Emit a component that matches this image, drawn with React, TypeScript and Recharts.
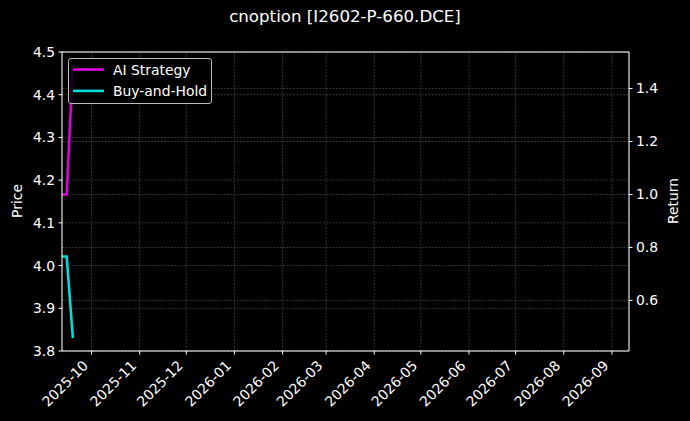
import { LineChart, Line, XAxis, YAxis, CartesianGrid, ReferenceLine } from "recharts";

// values
const dates = ["2025-09-12", "2025-09-15", "2025-09-19"];
const aiStrategy = [1.0, 1.0, 1.487];
const buyAndHold = [0.766, 0.766, 0.458];

const monthTicks = [
  "2025-10", "2025-11", "2025-12", "2026-01", "2026-02", "2026-03",
  "2026-04", "2026-05", "2026-06", "2026-07", "2026-08", "2026-09",
];
const priceTicks = [3.8, 3.9, 4.0, 4.1, 4.2, 4.3, 4.4, 4.5];
const returnTicks = [0.6, 0.8, 1.0, 1.2, 1.4];
const xRange = ["2025-09-12", "2026-09-12"];
const returnRange = [0.409, 1.538];

const ts = (s: string) => {
  const [y, m, d] = s.split("-").map(Number);
  return Date.UTC(y, m - 1, d || 1);
};

const chartData = dates.map((d, i) => ({ t: ts(d), ai: aiStrategy[i], bh: buyAndHold[i] }));

const FONT = "'DejaVu Sans', sans-serif";
const FS = 13.9;
const MAGENTA = "#dc00dc";
const CYAN = "#00dcdc";
const GRID = "#4a4a4a";

const fmtMonth = (v: number) => {
  const d = new Date(v);
  return `${d.getUTCFullYear()}-${String(d.getUTCMonth() + 1).padStart(2, "0")}`;
};

function XTick({ x, payload }: any) {
  const px = x - 2.5;
  const py = 366.5;
  return (
    <text x={px} y={py} textAnchor="end" fill="#fff" fontSize={FS} fontFamily={FONT}
      transform={`rotate(-45 ${px} ${py})`}>
      {fmtMonth(payload.value)}
    </text>
  );
}

const legendItems = [
  { name: "AI Strategy", c: MAGENTA },
  { name: "Buy-and-Hold", c: CYAN },
];

export default function App() {
  return (
    <div style={{ position: "fixed", left: 0, top: 0, width: 690, height: 421, background: "#000", fontFamily: FONT }}>
      <div style={{ position: "absolute", left: 0, width: 690, top: 9, textAlign: "center", color: "#fff", fontSize: 16.67, lineHeight: 1 }}>
        cnoption [I2602-P-660.DCE]
      </div>
      <LineChart width={690} height={421} data={chartData} margin={{ top: 52, right: 0, bottom: 0, left: 0 }}>
        <CartesianGrid yAxisId="left" stroke={GRID} strokeDasharray="2 1.3" strokeWidth={0.7} />
        <CartesianGrid yAxisId="right" vertical={false} stroke={GRID} strokeDasharray="2 1.3" strokeWidth={0.7} />
        <XAxis dataKey="t" type="number" scale="time" domain={xRange.map(ts)} allowDataOverflow
          ticks={monthTicks.map(ts)} height={70} tick={<XTick />} interval={0}
          stroke="#fff" tickSize={3.5} tickMargin={3.5} />
        <YAxis yAxisId="left" orientation="left" domain={[3.8, 4.5]} ticks={priceTicks} width={62}
          allowDataOverflow tickFormatter={(v: number) => v.toFixed(1)} stroke="#fff" tickSize={3.5} tickMargin={3.5}
          tick={{ fill: "#fff", fontSize: FS, fontFamily: FONT }}
          label={{ content: () => (
            <text x={17} y={201} transform="rotate(-90 17 201)" textAnchor="middle" dominantBaseline="central"
              fill="#fff" fontSize={FS} fontFamily={FONT}>Price</text>
          ) }} />
        <YAxis yAxisId="right" orientation="right" domain={returnRange} ticks={returnTicks} width={61}
          allowDataOverflow tickFormatter={(v: number) => v.toFixed(1)} stroke="#fff" tickSize={3.5} tickMargin={3.5}
          tick={{ fill: "#fff", fontSize: FS, fontFamily: FONT }}
          label={{ content: () => (
            <text x={673} y={201} transform="rotate(-90 673 201)" textAnchor="middle" dominantBaseline="central"
              fill="#fff" fontSize={FS} fontFamily={FONT}>Return</text>
          ) }} />
        <ReferenceLine yAxisId="left" y={4.5} stroke="#fff" strokeWidth={1} />
        <Line yAxisId="right" dataKey="ai" stroke={MAGENTA} strokeWidth={2.6} dot={false}
          type="linear" isAnimationActive={false} />
        <Line yAxisId="right" dataKey="bh" stroke={CYAN} strokeWidth={2.6} dot={false}
          type="linear" isAnimationActive={false} />
      </LineChart>
      <div style={{ position: "absolute", left: 68, top: 58, width: 144, height: 46, boxSizing: "border-box",
        border: "1px solid #bbb", borderRadius: 3, background: "rgba(0,0,0,0.85)" }}>
        <svg width={142} height={44} style={{ position: "absolute", left: 0, top: 0 }}>
          {legendItems.map((it, i) => {
            const y = 10.5 + i * 21.4;
            return (
              <g key={it.name}>
                <line x1={4} x2={35} y1={y} y2={y} stroke={it.c} strokeWidth={2.6} />
                <text x={44} y={y} dominantBaseline="central" fill="#fff" fontSize={FS} fontFamily={FONT}>{it.name}</text>
              </g>
            );
          })}
        </svg>
      </div>
    </div>
  );
}
